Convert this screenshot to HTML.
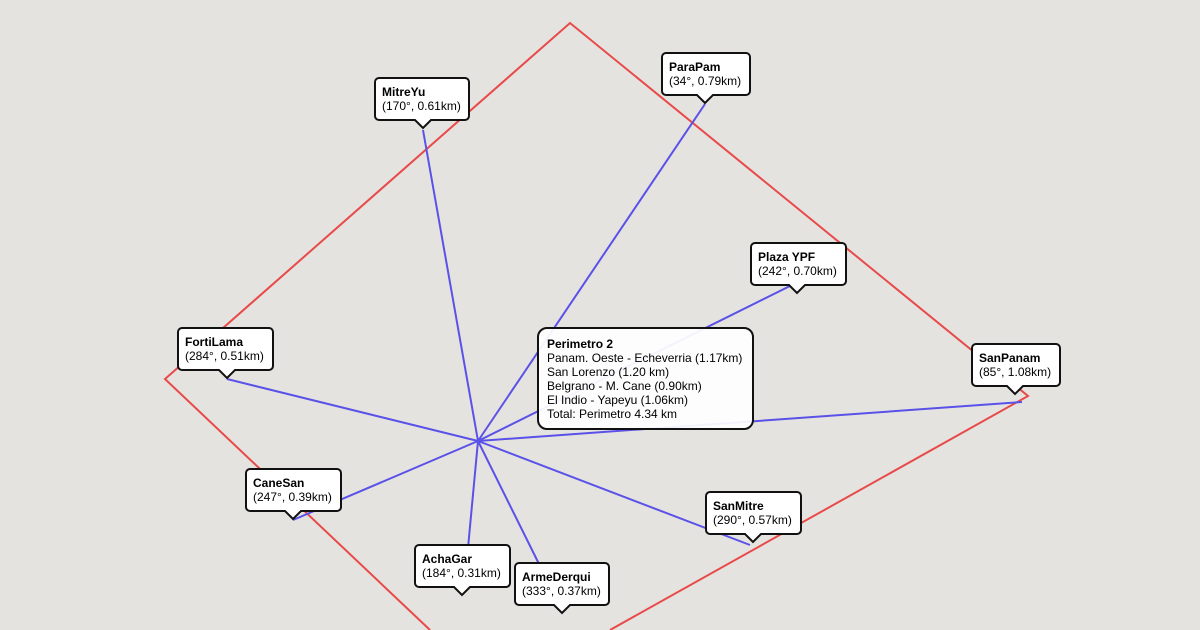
<!DOCTYPE html>
<html><head><meta charset="utf-8"><style>
html,body{margin:0;padding:0;background:#e5e3df;}
svg{display:block;font-family:"Liberation Sans",Arial,sans-serif;}
.b{font-weight:bold;font-size:12px;fill:#000}
.t{font-size:12px;fill:#000}
</style></head><body>
<svg width="1200" height="630" viewBox="0 0 1200 630">
<rect width="1200" height="630" fill="#e5e3df"/>
<polyline points="430,630 165,379 570,23 1028,396 610,630" fill="none" stroke="#e84a4a" stroke-width="2"/>
<g stroke="#5a52e8" stroke-width="2" fill="none">
<line x1="478" y1="441" x2="423" y2="130"/>
<line x1="478" y1="441" x2="705" y2="104"/>
<line x1="478" y1="441" x2="792" y2="285"/>
<line x1="478" y1="441" x2="1022" y2="402"/>
<line x1="478" y1="441" x2="227" y2="379"/>
<line x1="478" y1="441" x2="293" y2="520"/>
<line x1="478" y1="441" x2="468" y2="548"/>
<line x1="478" y1="441" x2="540" y2="566"/>
<line x1="478" y1="441" x2="750" y2="545"/>
</g>
<g stroke="#111" stroke-width="2" fill="#fff">
<path d="M379,78h86a4,4 0 0 1 4,4v34a4,4 0 0 1 -4,4h-34l-8,8l-8,-8h-36a4,4 0 0 1 -4,-4v-34a4,4 0 0 1 4,-4z"/>
<path d="M666,53h80a4,4 0 0 1 4,4v34a4,4 0 0 1 -4,4h-33l-8,8l-8,-8h-31a4,4 0 0 1 -4,-4v-34a4,4 0 0 1 4,-4z"/>
<path d="M755,243h87a4,4 0 0 1 4,4v34a4,4 0 0 1 -4,4h-37l-8,8l-8,-8h-34a4,4 0 0 1 -4,-4v-34a4,4 0 0 1 4,-4z"/>
<path d="M182,328h87a4,4 0 0 1 4,4v34a4,4 0 0 1 -4,4h-34l-8,8l-8,-8h-37a4,4 0 0 1 -4,-4v-34a4,4 0 0 1 4,-4z"/>
<path d="M976,344h80a4,4 0 0 1 4,4v34a4,4 0 0 1 -4,4h-33l-8,8l-8,-8h-31a4,4 0 0 1 -4,-4v-34a4,4 0 0 1 4,-4z"/>
<path d="M250,469h87a4,4 0 0 1 4,4v34a4,4 0 0 1 -4,4h-36l-8,8l-8,-8h-35a4,4 0 0 1 -4,-4v-34a4,4 0 0 1 4,-4z"/>
<path d="M419,545h87a4,4 0 0 1 4,4v34a4,4 0 0 1 -4,4h-36l-8,8l-8,-8h-35a4,4 0 0 1 -4,-4v-34a4,4 0 0 1 4,-4z"/>
<path d="M519,563h86a4,4 0 0 1 4,4v34a4,4 0 0 1 -4,4h-35l-8,8l-8,-8h-35a4,4 0 0 1 -4,-4v-34a4,4 0 0 1 4,-4z"/>
<path d="M710,492h87a4,4 0 0 1 4,4v34a4,4 0 0 1 -4,4h-36l-8,8l-8,-8h-35a4,4 0 0 1 -4,-4v-34a4,4 0 0 1 4,-4z"/>
<rect x="538" y="328" width="215" height="101" rx="9" fill="#fff" fill-opacity="0.93"/>
</g>
<text class="b" x="382" y="96">MitreYu</text><text class="t" x="382" y="110">(170°, 0.61km)</text>
<text class="b" x="669" y="71">ParaPam</text><text class="t" x="669" y="85">(34°, 0.79km)</text>
<text class="b" x="758" y="261">Plaza YPF</text><text class="t" x="758" y="275">(242°, 0.70km)</text>
<text class="b" x="185" y="346">FortiLama</text><text class="t" x="185" y="360">(284°, 0.51km)</text>
<text class="b" x="979" y="362">SanPanam</text><text class="t" x="979" y="376">(85°, 1.08km)</text>
<text class="b" x="253" y="487">CaneSan</text><text class="t" x="253" y="501">(247°, 0.39km)</text>
<text class="b" x="422" y="563">AchaGar</text><text class="t" x="422" y="577">(184°, 0.31km)</text>
<text class="b" x="522" y="581">ArmeDerqui</text><text class="t" x="522" y="595">(333°, 0.37km)</text>
<text class="b" x="713" y="510">SanMitre</text><text class="t" x="713" y="524">(290°, 0.57km)</text>
<text class="b" x="547" y="348">Perimetro 2</text>
<text class="t" x="547" y="362">Panam. Oeste - Echeverria (1.17km)</text>
<text class="t" x="547" y="376">San Lorenzo (1.20 km)</text>
<text class="t" x="547" y="390">Belgrano - M. Cane (0.90km)</text>
<text class="t" x="547" y="404">El Indio - Yapeyu (1.06km)</text>
<text class="t" x="547" y="418">Total: Perimetro 4.34 km</text>
</svg>
</body></html>
